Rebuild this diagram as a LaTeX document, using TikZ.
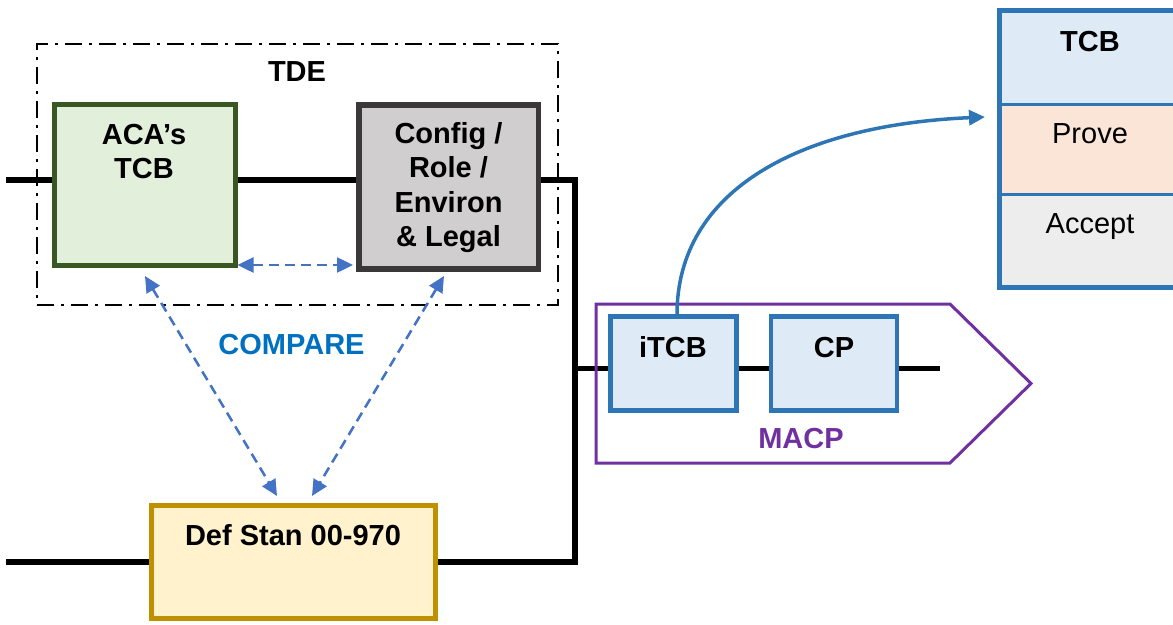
\documentclass[tikz,border=0pt]{standalone}
\usepackage{fontspec}
\setmainfont{Liberation Sans}
\usetikzlibrary{arrows.meta,calc,backgrounds}
\definecolor{acaF}{HTML}{E2EFDA}
\definecolor{acaB}{HTML}{385723}
\definecolor{cfgF}{HTML}{D0CECE}
\definecolor{cfgB}{HTML}{3A3838}
\definecolor{defF}{HTML}{FFF2CC}
\definecolor{defB}{HTML}{BF9000}
\definecolor{bluF}{HTML}{DEEBF7}
\definecolor{bluB}{HTML}{2E75B6}
\definecolor{prvF}{HTML}{FBE5D6}
\definecolor{accF}{HTML}{EDEDED}
\definecolor{cmpB}{HTML}{4472C4}
\definecolor{cmpT}{HTML}{0070C0}
\definecolor{macpC}{HTML}{7030A0}
\newcommand\mlines[1]{\begin{tabular}[t]{@{}c@{}}#1\end{tabular}}
\begin{document}
\begin{tikzpicture}[x=1pt,y=-1pt,
  every node/.style={inner sep=0pt,outer sep=0pt},
  lbl/.style={font=\fontsize{29}{34.5}\selectfont\bfseries,anchor=base},
  plbl/.style={font=\fontsize{29}{34.5}\selectfont,anchor=base},
  blk/.style={line width=5.5pt,black},
  cmp/.style={draw=cmpB,line width=2.5pt,dash pattern=on 10pt off 6pt,{Triangle[length=16pt,width=15pt]}-{Triangle[length=16pt,width=15pt]}},
  bbox/.style={draw=bluB,fill=bluF,line width=4.5pt}]
\useasboundingbox (0,0) rectangle (1173,624);
\clip (0,0) rectangle (1173,624);

% TDE container
\node[draw=black,line width=2.5pt,dash pattern=on 17pt off 7pt on 3pt off 7pt,
      minimum width=521pt,minimum height=261pt] (tde) at (297.5,174.5) {};
\node[lbl] (tdeT) at (297,81) {TDE};

% boxes
\node[draw=acaB,fill=acaF,line width=5pt,minimum width=181pt,minimum height=161pt] (aca) at (144.5,184.5) {};
\node[lbl] (acaT) at (144,144) {\mlines{ACA’s\\TCB}};
\node[draw=cfgB,fill=cfgF,line width=5.5pt,minimum width=179.5pt,minimum height=164pt] (config) at (448.75,187) {};
\node[lbl] (cfgT) at (448.5,143) {\mlines{Config /\\Role /\\Environ\\\& Legal}};
\node[draw=defB,fill=defF,line width=5pt,minimum width=284pt,minimum height=113pt] (defstan) at (293.5,562) {};
\node[lbl] (defT) at (293,545) {Def Stan 00-970};

\node[lbl,text=cmpT] (cmpT) at (291.5,354) {COMPARE};

% MACP
\draw[macpC,line width=3pt] (596,304) -- (950,304) -- (1031,383.5) -- (950,463) -- (596,463) -- cycle;
\node[bbox,minimum width=126pt,minimum height=94pt] (itcb) at (673.5,363.5) {};
\node[lbl] (itcbT) at (673,357) {iTCB};
\node[bbox,minimum width=126pt,minimum height=94pt] (cp) at (834,363.5) {};
\node[lbl] (cpT) at (834,357) {CP};
\node[lbl,text=macpC] (macpT) at (801,448) {MACP};

% TCB stack
\node[fill=bluF,minimum width=190pt,minimum height=93.5pt] (tcb1) at (1094.5,57.25) {};
\node[fill=prvF,minimum width=190pt,minimum height=90pt] (tcb2) at (1094.5,149) {};
\node[fill=accF,minimum width=190pt,minimum height=93.5pt] (tcb3) at (1094.5,240.75) {};
\draw[bluB,line width=3pt] (tcb1.south west) -- (tcb1.south east);
\draw[bluB,line width=3pt] (tcb2.south west) -- (tcb2.south east);
\draw[bluB,line width=5pt] (tcb1.north east) -- (tcb1.north west) -- (tcb3.south west) -- (tcb3.south east);
\node[lbl] (tcbT) at (1090,51) {TCB};
\node[plbl] (proveT) at (1090,143) {Prove};
\node[plbl] (acceptT) at (1090,233) {Accept};

% wiring on background
\coordinate (lt) at (6,180);
\coordinate (rt) at (575,180);
\coordinate (rb) at (575,562);
\coordinate (lb) at (6,562);
\coordinate (rm) at (575,368.5);
\coordinate (le) at (940,368.5);
\begin{scope}[on background layer]
\draw[blk] (lt) -- (lt -| aca.west);
\draw[blk] (lt -| aca.east) -- (lt -| config.west);
\draw[blk,line join=miter] (lt -| config.east) -- (rt) -- (rb) -- (rb -| defstan.east);
\draw[blk] (lb) -- (lb -| defstan.west);
\draw[blk] (rm) -- (rm -| itcb.west);
\draw[blk] (rm -| itcb.east) -- (rm -| cp.west);
\draw[blk] (rm -| cp.east) -- (le);
\end{scope}

% compare arrows
\draw[cmp] ($(aca.south east)+(2.5,0)$) -- ($(config.west |- aca.south east)+(-6,0)$);
\draw[cmp] ($(aca.south)+(0.5,11)$) -- ($(defstan.north)+(-16.5,-9.5)$);
\draw[cmp] ($(config.south)+(-4.75,7)$) -- ($(defstan.north)+(18.5,-9.5)$);

% curved arrow
\coordinate (ctip) at (985,117);
\draw[bluB,line width=3.5pt,-{Triangle[length=16pt,width=15pt]}]
  ($(itcb.north)+(3.5,-2)$) .. controls (677,190) and (800,125) .. (ctip);
\end{tikzpicture}
\end{document}
